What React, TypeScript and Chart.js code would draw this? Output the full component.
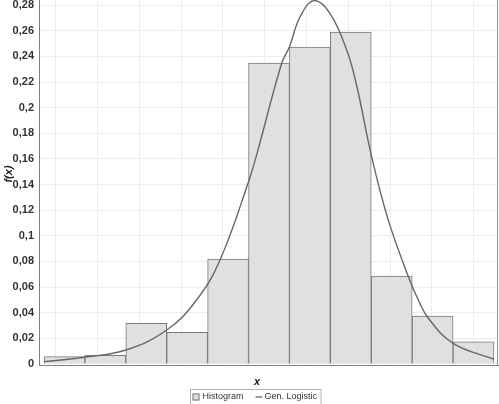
import React, { useEffect, useRef } from "react";
import { Chart, registerables } from "chart.js";

Chart.register(...registerables);

// Histogram bins (in bin units, the x axis has no tick labels)
const BIN_CENTERS = [0.5, 1.5, 2.5, 3.5, 4.5, 5.5, 6.5, 7.5, 8.5, 9.5, 10.5];
const BIN_HEIGHTS = [0.0057, 0.0068, 0.0317, 0.0247, 0.0819, 0.2348, 0.2473, 0.259, 0.0686, 0.0374, 0.0172];

// Fitted Gen. Logistic density
const CURVE_X = [0, 0.985, 2.0, 3.0, 3.73, 4.3, 5.0, 5.23, 5.81, 6.0, 6.26, 6.6, 6.99, 7.4, 7.65, 8.0, 8.4, 8.9, 9.15, 9.4, 10.0, 11.0];
const CURVE_Y = [0.0018, 0.0052, 0.0109, 0.0265, 0.0499, 0.081, 0.1422, 0.1669, 0.2346, 0.2475, 0.2709, 0.2835, 0.2736, 0.2449, 0.2163, 0.163, 0.114, 0.0686, 0.0499, 0.0355, 0.0161, 0.0037];

const Y_TICKS = [0, 0.02, 0.04, 0.06, 0.08, 0.1, 0.12, 0.14, 0.16, 0.18, 0.2, 0.22, 0.24, 0.26, 0.28];
const X_GRID = [0.8, 1.82, 2.84, 3.86, 4.88, 5.91, 6.93, 7.95, 8.97, 9.99, 11.01];

const SERIES_LABELS = ["Histogram", "Gen. Logistic"];
const X_TITLE = "x";
const Y_TITLE = "f(x)";

const BAR_FILL = "#e0e0e0";
const BAR_EDGE = "#7a7a7a";
const CURVE_COLOR = "#666666";

const decorPlugin = {
  id: "decor",
  afterDraw(chart: any) {
    const { ctx, chartArea: a } = chart;
    ctx.save();
    // right border of plot
    ctx.strokeStyle = "#8f8f8f";
    ctx.lineWidth = 1;
    const rx = Math.round(a.right) - 0.5;
    ctx.beginPath();
    ctx.moveTo(rx, a.top);
    ctx.lineTo(rx, a.bottom);
    ctx.stroke();

    // axis titles
    ctx.fillStyle = "#222";
    ctx.font = 'italic bold 11px "Liberation Sans"';
    ctx.textAlign = "center";
    ctx.textBaseline = "middle";
    ctx.fillText(X_TITLE, 257, 382);
    ctx.save();
    ctx.translate(9, 174);
    ctx.rotate(-Math.PI / 2);
    ctx.fillText(Y_TITLE, 0, 0);
    ctx.restore();

    // legend
    const ds = chart.data.datasets;
    ctx.font = '9px "Liberation Sans"';
    const w1 = ctx.measureText(ds[0].label).width;
    const w2 = ctx.measureText(ds[1].label).width;
    const total = 2 + 7 + 3 + w1 + 12 + 7 + 2 + w2 + 4;
    const left = Math.round(255.5 - total / 2) + 0.5;
    const top = 389.5;
    ctx.strokeStyle = "#b5b5b5";
    ctx.strokeRect(left, top, total, 20);
    const cy = 397;
    let x = left + 2;
    ctx.fillStyle = BAR_FILL;
    ctx.fillRect(x, cy - 3.5, 7, 7);
    ctx.strokeStyle = BAR_EDGE;
    ctx.strokeRect(x + 0.5, cy - 3.5 + 0.5, 6, 6);
    x += 10;
    ctx.fillStyle = "#333";
    ctx.textAlign = "left";
    ctx.fillText(ds[0].label, x, cy);
    x += w1 + 12;
    ctx.strokeStyle = CURVE_COLOR;
    ctx.lineWidth = 1.3;
    ctx.beginPath();
    ctx.moveTo(x, cy);
    ctx.lineTo(x + 7, cy);
    ctx.stroke();
    x += 9;
    ctx.fillText(ds[1].label, x, cy);
    ctx.restore();
  },
};

const fmt = (v: number) => String(+v.toFixed(2)).replace(".", ",");

export default function App() {
  const ref = useRef<HTMLCanvasElement | null>(null);

  useEffect(() => {
    document.body.style.margin = "0";
    const canvas = ref.current;
    if (!canvas) return;
    const chart = new Chart(canvas, {
      type: "bar",
      data: {
        datasets: [
          {
            type: "bar",
            label: SERIES_LABELS[0],
            data: BIN_CENTERS.map((x, i) => ({ x, y: BIN_HEIGHTS[i] })),
            backgroundColor: BAR_FILL,
            borderColor: BAR_EDGE,
            borderWidth: 1,
            barPercentage: 1,
            categoryPercentage: 1,
            order: 1,
          } as any,
          {
            type: "line",
            label: SERIES_LABELS[1],
            data: CURVE_X.map((x, i) => ({ x, y: CURVE_Y[i] })),
            borderColor: CURVE_COLOR,
            borderWidth: 1.4,
            pointRadius: 0,
            fill: false,
            tension: 0.4,
            order: 0,
          } as any,
        ],
      },
      options: {
        responsive: false,
        animation: false,
        layout: { padding: { left: 0, right: 1, top: 0, bottom: 0 } },
        plugins: {
          legend: { display: false },
          tooltip: { enabled: false },
        },
        scales: {
          x: {
            type: "linear",
            min: -0.122,
            max: 11.098,
            offset: false,
            afterBuildTicks: (s: any) => {
              s.ticks = X_GRID.map((v) => ({ value: v }));
            },
            afterFit: (s: any) => {
              s.height = 39;
              s.paddingLeft = 0;
              s.paddingRight = 0;
            },
            ticks: { display: false },
            grid: { color: "#ededed", drawTicks: false },
            border: { color: "#7f7f7f" },
          },
          y: {
            type: "linear",
            min: -0.0008,
            max: 0.284,
            afterBuildTicks: (s: any) => {
              s.ticks = Y_TICKS.map((v) => ({ value: v }));
            },
            afterFit: (s: any) => {
              s.width = 39;
              s.paddingTop = 0;
              s.paddingBottom = 0;
            },
            ticks: {
              callback: (v: any) => fmt(Number(v)),
              font: { family: '"Liberation Sans"', size: 11, weight: "bold" },
              color: "#333",
              padding: 5,
            },
            grid: { color: "#ededed", drawTicks: false },
            border: { color: "#7f7f7f" },
          },
        },
      } as any,
      plugins: [decorPlugin],
    });
    return () => chart.destroy();
  }, []);

  return (
    <div style={{ width: 499, height: 404, background: "#fff" }}>
      <canvas ref={ref} width={499} height={404} style={{ display: "block" }} />
    </div>
  );
}
